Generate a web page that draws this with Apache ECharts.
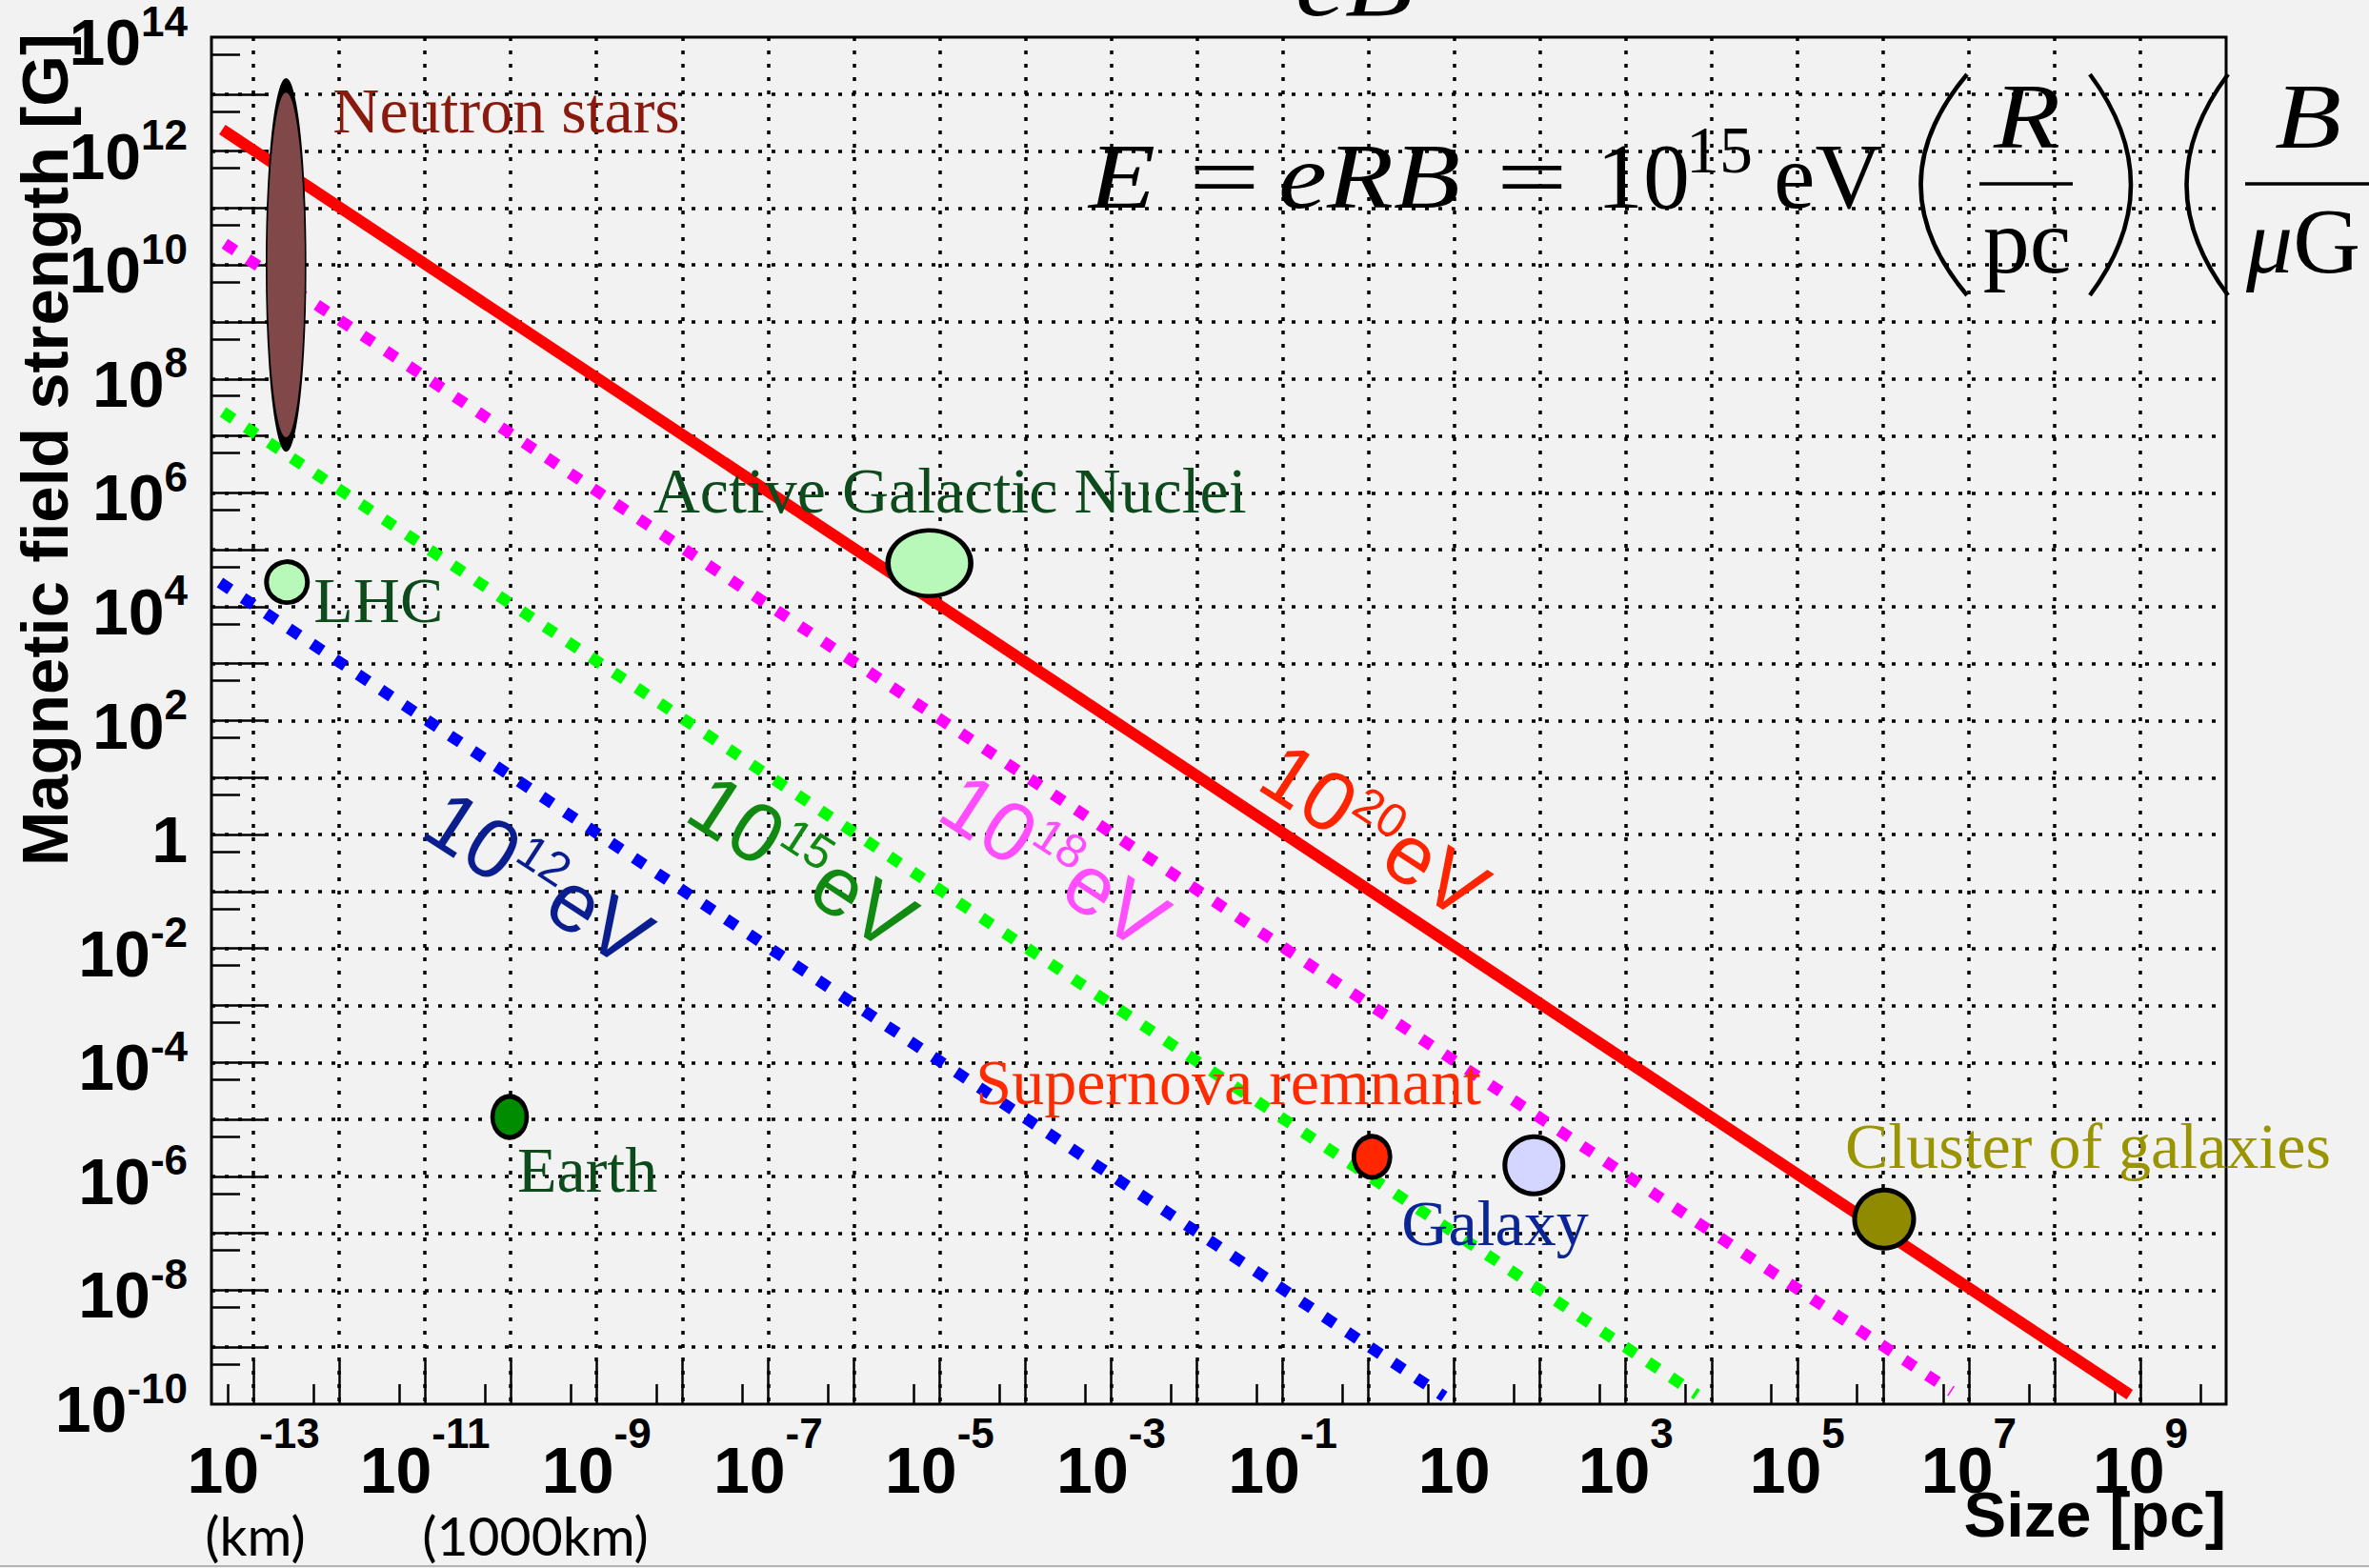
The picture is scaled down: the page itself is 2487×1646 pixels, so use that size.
<!DOCTYPE html>
<html>
<head>
<meta charset="utf-8">
<title>Magnetic field strength vs size</title>
<script src="https://cdn.jsdelivr.net/npm/echarts@6.0.0/dist/echarts.min.js"></script>
<style>
html,body{margin:0;padding:0;background:#f2f2f2;overflow:hidden;}
#chart{width:2487px;height:1646px;}
</style>
</head>
<body>
<div id="chart"></div>
<script>
// ---------------- axis ranges ----------------
const xRange = [3.24e-14, 1e10];   // Size [pc]
const yRange = [1e-10, 1e14];      // Magnetic field strength [G]

// ---------------- ticks & tick labels ----------------
const xMajorTicks = [1e-13,1e-12,1e-11,1e-10,1e-9,1e-8,1e-7,1e-6,1e-5,1e-4,1e-3,1e-2,1e-1,1,1e1,1e2,1e3,1e4,1e5,1e6,1e7,1e8,1e9];
const xMinorTicks = [5e-14,5e-13,5e-12,5e-11,5e-10,5e-9,5e-8,5e-7,5e-6,5e-5,5e-4,5e-3,5e-2,0.5,5,50,500,5e3,5e4,5e5,5e6,5e7,5e8,5e9];
const xLabelValues = [1e-13,1e-11,1e-9,1e-7,1e-5,1e-3,1e-1,1e1,1e3,1e5,1e7,1e9];
const xTickLabels = ['10^-13','10^-11','10^-9','10^-7','10^-5','10^-3','10^-1','10','10^3','10^5','10^7','10^9'];

const yMajorTicks = [1e-9,1e-8,1e-7,1e-6,1e-5,1e-4,1e-3,1e-2,1e-1,1,1e1,1e2,1e3,1e4,1e5,1e6,1e7,1e8,1e9,1e10,1e11,1e12,1e13];
const yMinorTicks = [5e-11,5e-10,5e-9,5e-8,5e-7,5e-6,5e-5,5e-4,5e-3,5e-2,0.5,5,50,500,5e3,5e4,5e5,5e6,5e7,5e8,5e9,5e10,5e11,5e12,5e13];
const yLabelValues = [1e-10,1e-8,1e-6,1e-4,1e-2,1,1e2,1e4,1e6,1e8,1e10,1e12,1e14];
const yTickLabels = ['10^-10','10^-8','10^-6','10^-4','10^-2','1','10^2','10^4','10^6','10^8','10^10','10^12','10^14'];

// ---------------- Hillas lines (read end points) [size pc, field G] ----------------
const lineE20 = [[4.33e-14, 2.39e12], [7.52e8, 1.47e-10]];
const lineE18 = [[4.63e-14, 2.36e10], [6.28e6, 1.68e-10]];
const lineE15 = [[4.41e-14, 2.63e7], [6.76e3, 1.47e-10]];
const lineE12 = [[4.07e-14, 2.65e4], [7.67, 1.36e-10]];
const energyNames = ['10^20eV', '10^18eV', '10^15eV', '10^12eV'];

// ---------------- objects ----------------
const objectNames = ['Neutron stars', 'LHC', 'Active Galactic Nuclei', 'Earth', 'Supernova remnant', 'Galaxy', 'Cluster of galaxies'];
const objectSize  = [2.4e-13, 2.46e-13, 7.6e-6, 9.7e-11, 1.1, 85, 1.03e6];      // pc
const objectField = [1.0e10, 2.7e4, 5.8e4, 1.1e-5, 2.2e-6, 1.56e-6, 1.77e-7];   // G

// ---------------- styles (kept apart from the data) ----------------
const SANS = '"Liberation Sans", Arial, Helvetica, sans-serif';
const SERIF = '"Liberation Serif", "Times New Roman", serif';

const energyStyle = [
  {color: '#ff0000', width: 12, type: 'solid', text: '#ff2400', lx: 1443, ly: 872},
  {color: '#ff00ff', width: 12, type: [13, 16], text: '#ff4dff', lx: 1107, ly: 904},
  {color: '#00ff00', width: 12, type: [13, 16], text: '#118a11', lx: 842, ly: 905},
  {color: '#0000ff', width: 12, type: [13, 16], text: '#0a1e8f', lx: 565, ly: 922}
];
const energyData = [lineE20, lineE18, lineE15, lineE12];

const objectStyle = [
  {size: [41, 377], fill: '#804848', text: '#8a1a0e', offset: [49, -162]},
  {size: [43, 43],  fill: '#b8f8b8', text: '#0d4a1c', offset: [28, 19]},
  {size: [87, 69],  fill: '#b8f8b8', text: '#0d4a1c', offset: [-290, -76]},
  {size: [36, 43],  fill: '#008c00', text: '#0d4a1c', offset: [8, 55]},
  {size: [38, 43],  fill: '#ff2600', text: '#ff2a00', offset: [-416, -78]},
  {size: [61, 60],  fill: '#d4d6ff', text: '#0b2496', offset: [-139, 61]},
  {size: [62, 61],  fill: '#8f8a00', text: '#9a9400', offset: [-41, -77]}
];

function richFormatter(values, labels) {
  return function (v) {
    let best = 0, bd = Infinity;
    values.forEach(function (t, i) {
      const d = Math.abs(Math.log10(t) - Math.log10(v));
      if (d < bd) { bd = d; best = i; }
    });
    const s = labels[best];
    const k = s.indexOf('^');
    return k < 0 ? '{b|' + s + '}' : '{b|' + s.slice(0, k) + '}{s|' + s.slice(k + 1) + '}';
  };
}
function supRich(lh) {
  return {
    b: {fontFamily: SANS, fontWeight: 'bold', fontSize: 68, lineHeight: lh, verticalAlign: 'bottom', color: '#000'},
    s: {fontFamily: SANS, fontWeight: 'bold', fontSize: 44, lineHeight: 44, verticalAlign: 'top', color: '#000'}
  };
}

const tickLine = {color: '#000', width: 2.5};
const gridLine = {color: '#000', width: 3.5, type: [4, 10]};

// ---------------- helpers for annotation graphics ----------------
function txt(text, x, y, font, opt) {
  opt = opt || {};
  return {
    type: 'text', x: x, y: y, z: 100, rotation: opt.rotation || 0,
    scaleX: opt.scaleX || 1, silent: true,
    style: {
      text: text, font: font, fill: opt.fill || '#000',
      textAlign: opt.align || 'left', align: opt.align || 'left',
      textVerticalAlign: 'middle', verticalAlign: 'middle',
      rich: opt.rich
    }
  };
}
function paren(x, cpx) {
  return {type: 'bezierCurve', z: 100, silent: true,
    shape: {x1: x, y1: 78, x2: x, y2: 310, cpx1: cpx, cpy1: 194},
    style: {stroke: '#000', lineWidth: 4.5, fill: null}};
}
function bar(x1, x2, y) {
  return {type: 'line', z: 100, silent: true,
    shape: {x1: x1, y1: y, x2: x2, y2: y}, style: {stroke: '#000', lineWidth: 3.5}};
}

const MATH = 98;
const graphics = [
  // axis titles
  txt('Magnetic field strength [G]', 47.5, 35, 'bold 69px ' + SANS, {rotation: Math.PI / 2, align: 'right'}),
  txt('Size [pc]', 2337, 1589, 'bold 67px ' + SANS, {align: 'right'}),
  txt('(km)', 268, 1611, '57px Lato, ' + SANS, {align: 'center'}),
  txt('(1000km)', 562, 1611, '57px Lato, ' + SANS, {align: 'center'}),
  // cut-off formula fragment at the top
  txt('eB', 1360, -18, 'italic 100px ' + SERIF, {scaleX: 1.17}),
  // E = eRB = 10^15 eV (R/pc)(B/μG
  txt('E', 1143, 185, 'italic ' + MATH + 'px ' + SERIF, {scaleX: 1.17}),
  txt('=', 1248, 185, MATH + 'px ' + SERIF, {scaleX: 1.35}),
  txt('eRB', 1342, 185, 'italic ' + MATH + 'px ' + SERIF, {scaleX: 1.17}),
  txt('=', 1571, 185, MATH + 'px ' + SERIF, {scaleX: 1.35}),
  txt('10', 1676, 185, MATH + 'px ' + SERIF),
  txt('15', 1770, 157, '70px ' + SERIF),
  txt('eV', 1862, 185, MATH + 'px ' + SERIF),
  paren(2065, 1968),
  txt('R', 2128, 122, 'italic ' + MATH + 'px ' + SERIF, {align: 'center', scaleX: 1.17}),
  bar(2078, 2176, 193),
  txt('pc', 2128, 253, MATH + 'px ' + SERIF, {align: 'center'}),
  paren(2194, 2280),
  paren(2339, 2252),
  txt('B', 2423, 122, 'italic ' + MATH + 'px ' + SERIF, {align: 'center', scaleX: 1.17}),
  bar(2357, 2490, 193),
  txt('{i|μ}{r|G}', 2358, 253, MATH + 'px ' + SERIF, {rich: {
    i: {fontFamily: SERIF, fontStyle: 'italic', fontSize: MATH, fill: '#000'},
    r: {fontFamily: SERIF, fontSize: MATH, fill: '#000'}
  }}),
  // frame line at the bottom of the picture
  {type: 'line', z: 100, silent: true, shape: {x1: 0, y1: 1644, x2: 2487, y2: 1644}, style: {stroke: '#b4b4b4', lineWidth: 2}}
];

// rotated energy labels along the lines
energyNames.forEach(function (name, i) {
  const st = energyStyle[i];
  const k = name.indexOf('eV');
  const sup = name.slice(3, k);
  graphics.push(txt('{b|10}{s|' + sup + '}{b|eV}', st.lx, st.ly, '88px ' + SANS, {
    align: 'center', rotation: -33 * Math.PI / 180,
    rich: {
      b: {fontFamily: SANS, fontSize: 88, lineHeight: 88, verticalAlign: 'bottom', fill: st.text},
      s: {fontFamily: SANS, fontSize: 50, lineHeight: 66, verticalAlign: 'top', fill: st.text}
    }
  }));
});

const series = energyData.map(function (d, i) {
  const st = energyStyle[i];
  return {
    type: 'line', name: energyNames[i], data: d, xAxisIndex: 0, yAxisIndex: 0,
    showSymbol: false, symbol: 'none', silent: true, z: 3,
    lineStyle: {color: st.color, width: st.width, type: st.type, cap: 'butt', opacity: 1}
  };
});
series.push({
  type: 'scatter', name: 'objects', xAxisIndex: 0, yAxisIndex: 0, z: 5, clip: false, silent: true,
  data: objectNames.map(function (name, i) {
    const st = objectStyle[i];
    return {
      name: name, value: [objectSize[i], objectField[i]],
      symbol: 'circle', symbolSize: st.size,
      itemStyle: {color: st.fill, borderColor: '#000', borderWidth: 5, opacity: 1},
      label: {show: true, formatter: '{b}', position: 'inside', offset: st.offset,
        align: 'left', verticalAlign: 'middle', fontFamily: SERIF, fontSize: 68,
        color: st.text, textBorderWidth: 0}
    };
  })
});

const chart = echarts.init(document.getElementById('chart'), null, {renderer: 'svg', width: 2487, height: 1646});
chart.setOption({
  animation: false,
  backgroundColor: '#f2f2f2',
  grid: {left: 222, right: 150, top: 38, bottom: 172, show: true, borderColor: '#000', borderWidth: 3, backgroundColor: 'transparent', containLabel: false},
  xAxis: [
    {type: 'log', logBase: 10, min: xRange[0], max: xRange[1], position: 'bottom',
      axisLine: {show: false, onZero: false},
      axisTick: {show: true, inside: true, length: 46, customValues: xMajorTicks, lineStyle: tickLine},
      minorTick: {show: false},
      axisLabel: {show: true, customValues: xLabelValues, margin: 8, formatter: richFormatter(xLabelValues, xTickLabels), rich: supRich(95)},
      splitLine: {show: true, lineStyle: gridLine}},
    {type: 'log', logBase: 10, min: xRange[0], max: xRange[1], position: 'bottom',
      axisLine: {show: false, onZero: false},
      axisTick: {show: true, inside: true, length: 21, customValues: xMinorTicks, lineStyle: tickLine},
      axisLabel: {show: false}, splitLine: {show: false}}
  ],
  yAxis: [
    {type: 'log', logBase: 10, min: yRange[0], max: yRange[1], position: 'left',
      axisLine: {show: false, onZero: false},
      axisTick: {show: true, inside: true, length: 60, customValues: yMajorTicks, lineStyle: tickLine},
      minorTick: {show: false},
      axisLabel: {show: true, customValues: yLabelValues, margin: 25, formatter: richFormatter(yLabelValues, yTickLabels), rich: supRich(78)},
      splitLine: {show: true, lineStyle: gridLine}},
    {type: 'log', logBase: 10, min: yRange[0], max: yRange[1], position: 'left',
      axisLine: {show: false, onZero: false},
      axisTick: {show: true, inside: true, length: 30, customValues: yMinorTicks, lineStyle: tickLine},
      axisLabel: {show: false}, splitLine: {show: false}}
  ],
  series: series,
  graphic: {elements: graphics}
});
</script>
</body>
</html>
